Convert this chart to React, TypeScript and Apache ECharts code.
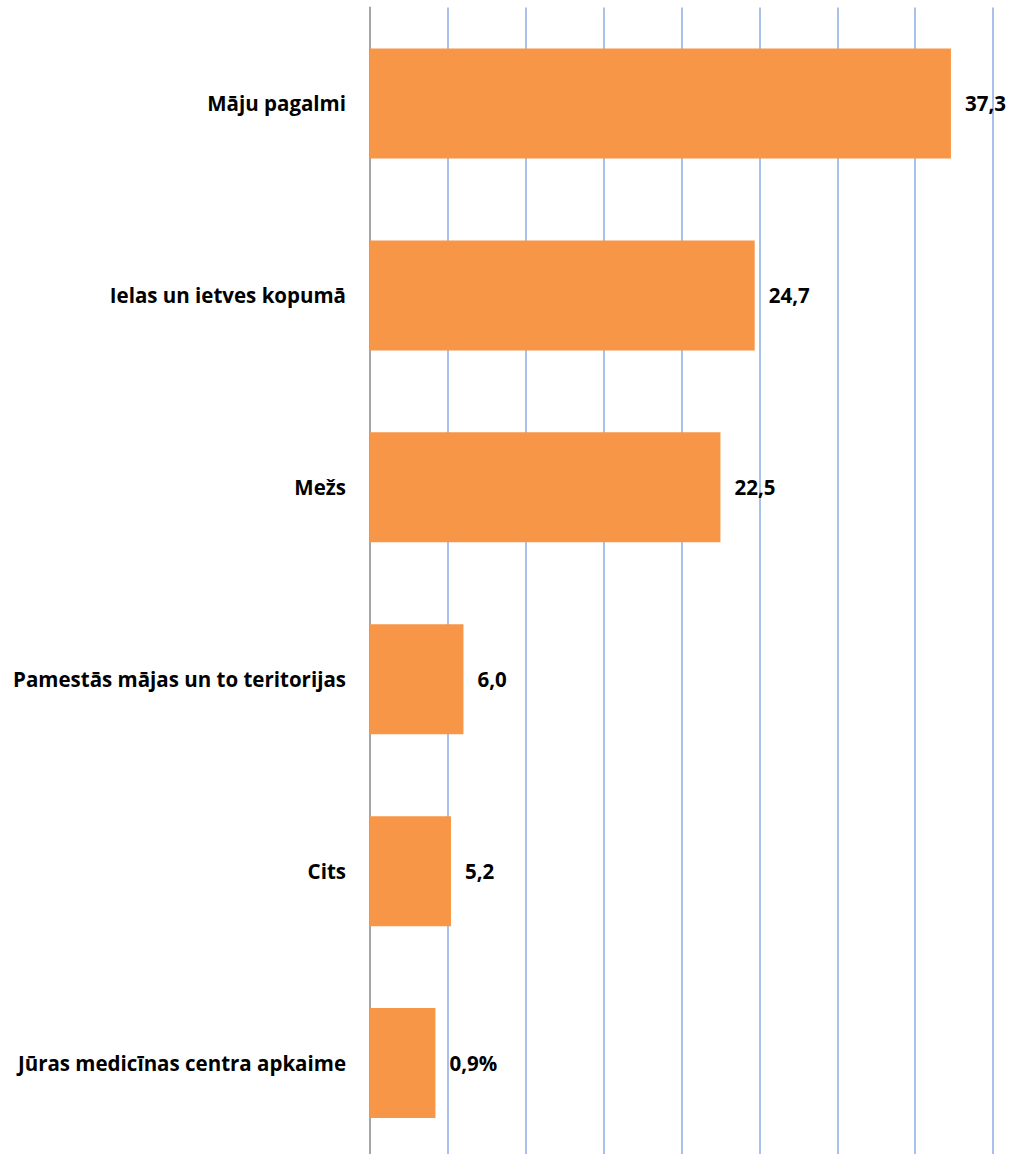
import React, { useEffect, useRef } from "react";
import * as echarts from "echarts";

const categories = [
  "Māju pagalmi",
  "Ielas un ietves kopumā",
  "Mežs",
  "Pamestās mājas un to teritorijas",
  "Cits",
  "Jūras medicīnas centra apkaime",
];
const values = [37.3, 24.7, 22.5, 6.0, 5.2, 4.2];
const valueLabels = ["37,3", "24,7", "22,5", "6,0", "5,2", "0,9%"];

export default function App() {
  const ref = useRef<HTMLDivElement>(null);
  useEffect(() => {
    document.body.style.margin = "0";
    document.body.style.overflow = "hidden";
    const chart = echarts.init(ref.current!, null, { renderer: "svg" });
    const font = "'Open Sans', sans-serif";
    chart.setOption({
      animation: false,
      backgroundColor: "#ffffff",
      grid: { left: 370, right: 23, top: 7.5, bottom: 0, containLabel: false },
      xAxis: {
        type: "value",
        min: 0,
        max: 40,
        interval: 5,
        axisLabel: { show: false },
        axisLine: { show: false },
        axisTick: { show: false },
        splitLine: { show: true, lineStyle: { color: "#A9C1EA", width: 2 } },
      },
      yAxis: {
        type: "category",
        inverse: true,
        data: categories,
        axisTick: { show: false },
        axisLine: { show: true, lineStyle: { color: "#A6A6A6", width: 2 } },
        axisLabel: {
          margin: 24,
          color: "#000000",
          fontWeight: "bold",
          fontSize: 20.5,
          fontFamily: font,
        },
      },
      series: [
        {
          type: "bar",
          data: values,
          barWidth: 110,
          itemStyle: { color: "#F79646" },
          label: {
            show: true,
            position: "right",
            distance: 14,
            color: "#000000",
            fontWeight: "bold",
            fontSize: 20.5,
            fontFamily: font,
            formatter: (p: any) => valueLabels[p.dataIndex],
          },
        },
      ],
    });
    return () => chart.dispose();
  }, []);
  return <div ref={ref} style={{ width: 1016, height: 1159 }} />;
}
